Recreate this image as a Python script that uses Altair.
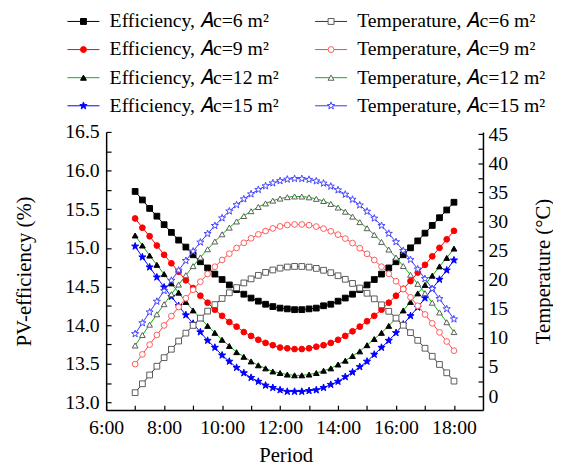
import altair as alt
import pandas as pd

times = ["7:00", "7:15", "7:30", "7:45", "8:00", "8:15", "8:30", "8:45", "9:00", "9:15",
         "9:30", "9:45", "10:00", "10:15", "10:30", "10:45", "11:00", "11:15", "11:30", "11:45",
         "12:00", "12:15", "12:30", "12:45", "13:00", "13:15", "13:30", "13:45", "14:00", "14:15",
         "14:30", "14:45", "15:00", "15:15", "15:30", "15:45", "16:00", "16:15", "16:30", "16:45",
         "17:00", "17:15", "17:30", "17:45", "18:00"]

eff_6 = [15.73, 15.62, 15.51, 15.41, 15.30, 15.20, 15.10, 15.01, 14.91, 14.82, 14.74, 14.66, 14.59, 14.52, 14.46,
         14.40, 14.35, 14.31, 14.27, 14.24, 14.22, 14.21, 14.20, 14.20, 14.21, 14.22, 14.25, 14.27, 14.31, 14.35,
         14.40, 14.46, 14.52, 14.59, 14.66, 14.74, 14.82, 14.91, 15.00, 15.09, 15.19, 15.29, 15.39, 15.49, 15.59]
eff_9 = [15.38, 15.26, 15.15, 15.03, 14.91, 14.80, 14.69, 14.58, 14.48, 14.38, 14.29, 14.20, 14.12, 14.04, 13.98,
         13.91, 13.86, 13.81, 13.77, 13.74, 13.71, 13.70, 13.69, 13.69, 13.70, 13.72, 13.74, 13.77, 13.81, 13.86,
         13.92, 13.98, 14.05, 14.12, 14.20, 14.29, 14.38, 14.47, 14.57, 14.68, 14.78, 14.89, 15.00, 15.11, 15.22]
eff_12 = [15.16, 15.03, 14.90, 14.78, 14.66, 14.54, 14.42, 14.30, 14.19, 14.09, 13.99, 13.90, 13.81, 13.73, 13.65,
          13.59, 13.53, 13.48, 13.44, 13.40, 13.38, 13.36, 13.35, 13.35, 13.36, 13.38, 13.41, 13.44, 13.49, 13.54,
          13.60, 13.66, 13.74, 13.82, 13.90, 13.99, 14.09, 14.19, 14.30, 14.41, 14.52, 14.64, 14.76, 14.87, 14.99]
eff_15 = [15.02, 14.88, 14.75, 14.62, 14.49, 14.37, 14.25, 14.13, 14.02, 13.91, 13.80, 13.71, 13.61, 13.53, 13.45,
          13.38, 13.32, 13.27, 13.22, 13.19, 13.16, 13.14, 13.14, 13.14, 13.15, 13.16, 13.19, 13.23, 13.27, 13.33,
          13.39, 13.46, 13.53, 13.62, 13.71, 13.80, 13.90, 14.01, 14.12, 14.23, 14.35, 14.47, 14.59, 14.71, 14.84]

temp_6 = [0.60, 2.12, 3.64, 5.14, 6.61, 8.06, 9.47, 10.83, 12.15, 13.41, 14.61, 15.73, 16.78, 17.76, 18.65,
          19.45, 20.15, 20.76, 21.27, 21.68, 21.99, 22.19, 22.29, 22.28, 22.17, 21.95, 21.63, 21.21, 20.69, 20.08,
          19.37, 18.57, 17.68, 16.72, 15.69, 14.58, 13.41, 12.18, 10.91, 9.59, 8.23, 6.85, 5.44, 4.01, 2.58]
temp_9 = [5.50, 7.18, 8.86, 10.52, 12.15, 13.75, 15.31, 16.82, 18.27, 19.67, 20.99, 22.24, 23.40, 24.48, 25.46,
          26.35, 27.12, 27.80, 28.37, 28.83, 29.17, 29.40, 29.51, 29.50, 29.38, 29.14, 28.79, 28.33, 27.75, 27.08,
          26.30, 25.42, 24.45, 23.39, 22.25, 21.03, 19.74, 18.39, 16.99, 15.53, 14.04, 12.51, 10.96, 9.39, 7.81]
temp_12 = [8.70, 10.50, 12.28, 14.06, 15.80, 17.51, 19.17, 20.78, 22.34, 23.83, 25.24, 26.57, 27.81, 28.96, 30.01,
           30.95, 31.78, 32.50, 33.11, 33.59, 33.95, 34.19, 34.31, 34.30, 34.16, 33.90, 33.53, 33.03, 32.41, 31.69,
           30.85, 29.90, 28.86, 27.72, 26.50, 25.19, 23.81, 22.36, 20.85, 19.29, 17.69, 16.05, 14.38, 12.70, 11.01]
temp_15 = [10.70, 12.57, 14.43, 16.27, 18.09, 19.87, 21.60, 23.28, 24.89, 26.44, 27.91, 29.29, 30.59, 31.78, 32.87,
           33.86, 34.72, 35.48, 36.11, 36.61, 36.99, 37.25, 37.37, 37.36, 37.22, 36.96, 36.57, 36.05, 35.41, 34.66,
           33.79, 32.82, 31.74, 30.56, 29.29, 27.94, 26.50, 25.00, 23.44, 21.82, 20.16, 18.46, 16.73, 14.98, 13.23]

eff_names = ["Efficiency, 𝐴c=6 m²", "Efficiency, 𝐴c=9 m²", "Efficiency, 𝐴c=12 m²", "Efficiency, 𝐴c=15 m²"]
temp_names = ["Temperature, 𝐴c=6 m²", "Temperature, 𝐴c=9 m²", "Temperature, 𝐴c=12 m²", "Temperature, 𝐴c=15 m²"]
eff_values = [eff_6, eff_9, eff_12, eff_15]
temp_values = [temp_6, temp_9, temp_12, temp_15]

STAR = ("M0,-1.3L0.306,-0.421L1.236,-0.402L0.494,0.161L0.764,1.052L0,0.52"
        "L-0.764,1.052L-0.494,0.161L-1.236,-0.402L-0.306,-0.421Z")
shapes = ["square", "circle", "triangle-up", STAR]

eff_line_colors = ["#000000", "#ff0000", "#00b400", "#0000ff"]
eff_marker_strokes = ["#000000", "#ff0000", "#000000", "#0000ff"]
eff_marker_fills = ["#000000", "#ff0000", "#000000", "#0000ff"]

temp_line_colors = ["#333333", "#ff4040", "#00b400", "#3535ff"]
temp_marker_strokes = ["#5a5a5a", "#ff5a5a", "#5a5a5a", "#4545ff"]
temp_marker_fills = ["#ffffff", "#ffffff", "#ffffff", "#ffffff"]

ZW = "\u200b"  # keeps the line legend apart from the marker legend


def to_hours(s):
    h, m = s.split(":")
    return int(h) + int(m) / 60.0


def build(names, vals_list):
    rows = []
    for name, vals in zip(names, vals_list):
        for t, v in zip(times, vals):
            rows.append({"hour": to_hours(t), "value": v, "series": name, "lseries": ZW + name})
    return pd.DataFrame(rows)


eff_df = build(eff_names, eff_values)
temp_df = build(temp_names, temp_values)

FONT = "Liberation Serif"
INWARD = alt.ExprRef(expr="-5")

x_enc = alt.X("hour:Q", title="Period",
              scale=alt.Scale(domain=[6, 19], nice=False, zero=False),
              axis=alt.Axis(values=list(range(6, 19)),
                            labelExpr="datum.value % 2 == 0 ? datum.value + ':00' : ''",
                            tickSize=INWARD, labelPadding=13, labelFlush=False,
                            titleX=182, titleY=52, titleBaseline="alphabetic",
                            grid=False))
y_eff = alt.Y("value:Q", title="PV-efficiency (%)",
              scale=alt.Scale(domain=[12.9, 16.5], nice=False, zero=False),
              axis=alt.Axis(orient="left",
                            values=[13.0 + 0.25 * k for k in range(15)],
                            labelExpr="(datum.value * 4) % 2 == 0 ? format(datum.value, '.1f') : ''",
                            tickSize=INWARD, labelPadding=12, labelFlush=False,
                            titlePadding=31, grid=False))
y_temp = alt.Y("value:Q", title="Temperature (°C)",
               scale=alt.Scale(domain=[-2.4, 45.4], nice=False, zero=False),
               axis=alt.Axis(orient="right",
                             values=[2.5 * k for k in range(19)],
                             labelExpr="datum.value % 5 == 0 ? format(datum.value, 'd') : ''",
                             tickSize=INWARD, labelPadding=10, labelFlush=False,
                             titlePadding=25, titleAngle=270, titleBaseline="top", grid=False))


def legends(lx):
    common = dict(orient="none", legendX=lx, legendY=-122, direction="vertical",
                  symbolSize=36, symbolStrokeWidth=1, symbolOpacity=1,
                  labelOffset=16.5, rowPadding=8.5,
                  labelFont=FONT, labelFontSize=20, labelColor="black", labelLimit=400,
                  title=None, padding=0)
    line_leg = alt.Legend(symbolType="M-5.4,0H5.4", **common)
    marker_leg = alt.Legend(labelExpr="''", **common)
    return line_leg, marker_leg


def group(data, names, y_enc, line_colors, m_strokes, m_fills, lx):
    line_leg, marker_leg = legends(lx)
    color_enc = alt.Color("lseries:N", scale=alt.Scale(domain=[ZW + n for n in names], range=line_colors),
                          legend=line_leg)
    shape_enc = alt.Shape("series:N", scale=alt.Scale(domain=names, range=shapes), legend=marker_leg)
    stroke_enc = alt.Stroke("series:N", scale=alt.Scale(domain=names, range=m_strokes), legend=marker_leg)
    fill_enc = alt.Fill("series:N", scale=alt.Scale(domain=names, range=m_fills), legend=marker_leg)
    ln = alt.Chart(data).mark_line(strokeWidth=1).encode(x=x_enc, y=y_enc, color=color_enc)
    pt = alt.Chart(data).mark_point(size=34, strokeWidth=1, opacity=1).encode(
        x=x_enc, y=y_enc, shape=shape_enc, stroke=stroke_enc, fill=fill_enc)
    return alt.layer(ln, pt)


eff_group = group(eff_df, eff_names, y_eff, eff_line_colors, eff_marker_strokes, eff_marker_fills, -33)
temp_group = group(temp_df, temp_names, y_temp, temp_line_colors, temp_marker_strokes, temp_marker_fills, 218)

chart = alt.layer(eff_group, temp_group).resolve_scale(
    y="independent", color="independent", shape="independent",
    stroke="independent", fill="independent"
).properties(
    width=382, height=282, autosize="none",
    padding={"left": 99.5, "top": 122.5, "right": 71, "bottom": 52}
).configure_view(stroke=None).configure_axis(
    domainColor="black", domainWidth=1.5, tickColor="black", tickWidth=1.2,
    labelFont=FONT, labelFontSize=20, labelColor="black",
    titleFont=FONT, titleFontSize=21, titleFontWeight="normal", titleColor="black"
)

chart.save("out.html", embed_options={"renderer": "svg", "actions": False})
